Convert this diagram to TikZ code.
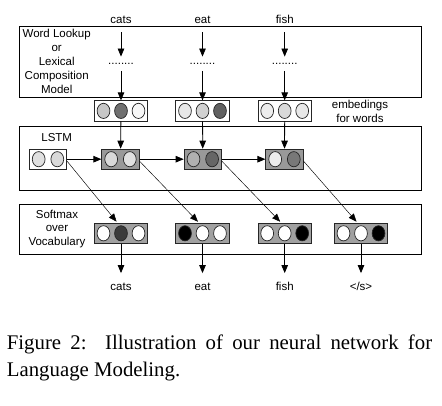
\documentclass[tikz,border=0pt]{standalone}
\usepackage{fontspec}
\setmainfont{Liberation Sans}
\newfontfamily\capfont{Liberation Serif}
\usetikzlibrary{arrows.meta,calc}
\begin{document}
\begin{tikzpicture}[x=1pt,y=-1pt,
  lbl/.style={font=\fontsize{11.5}{13.9}\selectfont, inner sep=0pt, align=center},
  word/.style={lbl, text height=8.5pt, text depth=2.5pt, anchor=base},
  panel/.style={draw=black, line width=0.9pt, inner sep=0pt},
  vec/.style={draw=black!85, line width=0.7pt, minimum height=20.3pt, inner sep=0pt},
  vecthree/.style={vec, minimum width=53.6pt},
  vectwo/.style={vec, minimum width=37.5pt},
  dots/.style={lbl, minimum height=14pt},
  arr/.style={-{Triangle[length=8pt,width=6.5pt]}, line width=0.8pt},
  darr/.style={-{Triangle[length=8pt,width=6.5pt]}, line width=0.45pt},
  bub/.style={draw=black!85, line width=0.7pt}
]
\useasboundingbox (0,0) rectangle (442,406);

% panels
\node[panel, minimum width=402.2pt, minimum height=70.3pt] (p1) at (220.6,61.85) {};
\node[panel, minimum width=402.4pt, minimum height=64pt] (p2) at (220.5,158.7) {};
\node[panel, minimum width=402.4pt, minimum height=49.7pt] (p3) at (220.5,229.15) {};

% panel labels
\node[lbl] (t1) at (56.7,61.5) {Word Lookup\\or\\Lexical\\Composition\\Model};
\node[lbl, anchor=base] (t2) at (56.7,142) {LSTM};
\node[lbl] (t3) at (57,229) {Softmax\\over\\Vocabulary};
\node[lbl, font=\fontsize{11.5}{13.5}\selectfont] (t4) at (360,111.5) {embedings\\for words};

% input words
\node[word] (w1) at (121,24) {cats};
\node[word] (w2) at (202.5,24) {eat};
\node[word] (w3) at (284.7,24) {fish};

\node[dots] (d1) at (121,63.8) {........};
\node[dots] (d2) at (202.5,63.8) {........};
\node[dots] (d3) at (284.7,63.8) {........};

% embeddings
\node[vecthree, fill=white] (e1) at (121,110.9) {};
\node[vecthree, fill=white] (e2) at (202.5,110.9) {};
\node[vecthree, fill=white] (e3) at (284.7,110.9) {};
\foreach \n/\a/\b/\c in {e1/22/56/3, e2/9/18/62, e3/7/15/9}{
  \foreach \dx/\k in {-17.5/\a, 0/\b, 17.5/\c}
    \draw[bub, fill=black!\k] ($(\n.center)+(\dx,0)$) ellipse [x radius=6.4, y radius=7.6];
}

% LSTM
\node[vectwo, fill=white] (l0) at (48,159.2) {};
\node[vectwo, fill=black!40] (l1) at (120.5,159.2) {};
\node[vectwo, fill=black!40] (l2) at (202.8,159.2) {};
\node[vectwo, fill=black!40] (l3) at (284.5,159.2) {};
\foreach \n/\a/\b in {l0/12/15, l1/15/12, l2/31/60, l3/7/53}{
  \foreach \dx/\k in {-9.3/\a, 9.3/\b}
    \draw[bub, fill=black!\k] ($(\n.center)+(\dx,0)$) ellipse [x radius=6.4, y radius=7.6];
}

% softmax
\node[vecthree, fill=black!37] (s1) at (121,233.3) {};
\node[vecthree, fill=black!37] (s2) at (202.5,233.3) {};
\node[vecthree, fill=black!37] (s3) at (284.7,233.3) {};
\node[vecthree, fill=black!37] (s4) at (361,233.3) {};
\foreach \n/\a/\b/\c in {s1/0/77/0, s2/100/0/0, s3/0/0/100, s4/0/0/100}{
  \foreach \dx/\k in {-17.5/\a, 0/\b, 17.5/\c}
    \draw[bub, fill=black!\k] ($(\n.center)+(\dx,0)$) ellipse [x radius=6.4, y radius=7.6];
}

% outputs
\node[word] (o1) at (121,290.5) {cats};
\node[word] (o2) at (202.5,290.5) {eat};
\node[word] (o3) at (284.7,290.5) {fish};
\node[word] (o4) at (361,290.5) {</s>};

% connectors
\foreach \i in {1,2,3}{
  \draw[arr, shorten <=5.5pt] (w\i) -- (d\i);
  \draw[arr] (d\i) -- (e\i);
  \draw[arr] (e\i) -- (l\i);
}
\draw[arr] (l0) -- (l1);
\draw[arr] (l1) -- (l2);
\draw[arr] (l2) -- (l3);
\foreach \a/\b in {l0/s1, l1/s2, l2/s3, l3/s4}
  \draw[darr, shorten >=1.5pt] ($(\a.east)+(0,2)$) -- ($(\b.north)+(-3.5,0)$);
\foreach \i in {1,2,3,4}
  \draw[arr, shorten >=8.7pt] (s\i) -- (o\i);

% caption
\node[inner sep=0pt, anchor=base west, font=\capfont\fontsize{20.8}{27.7}\selectfont] (c1) at (6.7,349)
  {\hbox to 425.3pt{Figure 2:\ \ Illustration of our neural network for}};
\node[inner sep=0pt, anchor=base west, font=\capfont\fontsize{20.8}{27.7}\selectfont] (c2) at (6.7,376.7)
  {Language Modeling.};
\end{tikzpicture}
\end{document}
